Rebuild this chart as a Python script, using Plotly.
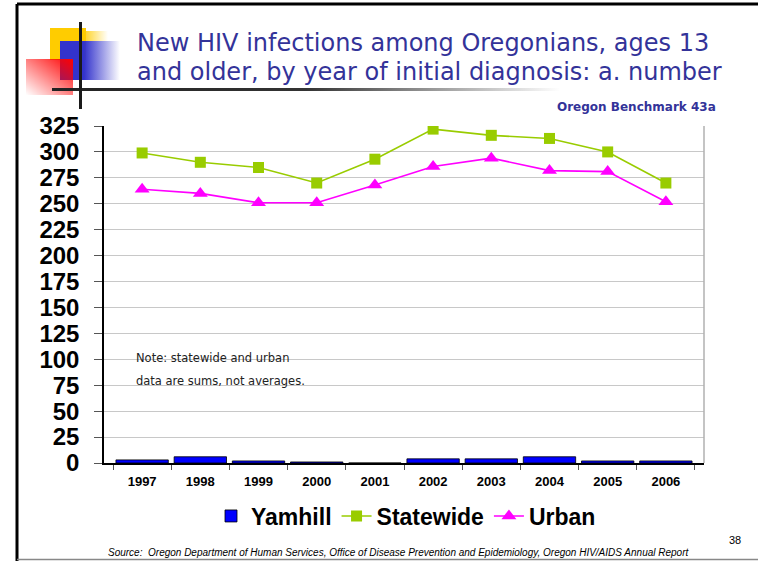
import base64
import plotly.graph_objects as go

years = ["1997", "1998", "1999", "2000", "2001", "2002", "2003", "2004", "2005", "2006"]
yamhill = [3, 6, 2, 1, 0, 4, 4, 6, 2, 2]
statewide = [299, 290, 285, 270, 293, 322, 316, 313, 300, 270]
urban = [264, 260, 251, 251, 268, 286, 294, 282, 281, 252]
y_ticks = list(range(0, 326, 25))

W, H = 758, 562
L, R, T, B = 104, 54, 126, 99
PW, PH = W - L - R, H - T - B


def px(x):
    return (x - L) / PW


def py(y):
    return (H - B - y) / PH


svg = f'''<svg xmlns="http://www.w3.org/2000/svg" width="{W}" height="{H}" viewBox="0 0 {W} {H}">
<defs>
<linearGradient id="gb" x1="0" y1="0" x2="1" y2="0">
<stop offset="0" stop-color="#3333CC"/><stop offset="0.4" stop-color="#3333CC"/><stop offset="1" stop-color="#3333CC" stop-opacity="0"/>
</linearGradient>
<linearGradient id="gy" x1="0" y1="0" x2="1" y2="0">
<stop offset="0" stop-color="#FFCC00" stop-opacity="0.8"/><stop offset="1" stop-color="#FFCC00" stop-opacity="0"/>
</linearGradient>
<linearGradient id="gr" x1="1" y1="0" x2="0" y2="1">
<stop offset="0" stop-color="#FF0000"/><stop offset="1" stop-color="#FF0000" stop-opacity="0"/>
</linearGradient>
<linearGradient id="gl" x1="0" y1="0" x2="1" y2="0">
<stop offset="0" stop-color="#222222"/><stop offset="0.5" stop-color="#333333"/><stop offset="1" stop-color="#333333" stop-opacity="0"/>
</linearGradient>
</defs>
<line x1="17" y1="4" x2="{W}" y2="4" stroke="#000" stroke-width="3"/>
<line x1="17" y1="4" x2="17" y2="561" stroke="#000" stroke-width="3"/>
<line x1="17" y1="559.5" x2="{W}" y2="559.5" stroke="#888" stroke-width="1.5"/>
<rect x="86" y="31" width="22" height="10" fill="url(#gy)"/>
<rect x="50" y="28" width="36" height="32" fill="#FFCC00"/>
<rect x="60" y="41" width="60" height="39" fill="url(#gb)"/>
<rect x="26" y="59" width="47" height="36" fill="url(#gr)"/>
<rect x="52" y="88" width="508" height="3" fill="url(#gl)"/>
<line x1="80.5" y1="22" x2="80.5" y2="109" stroke="#1a1a1a" stroke-width="3"/>
</svg>'''
src = "data:image/svg+xml;base64," + base64.b64encode(svg.encode()).decode()

fig = go.Figure()
fig.add_trace(go.Bar(
    x=years, y=yamhill, name="Yamhill", width=0.9,
    marker=dict(color="#0000FF", line=dict(color="#000000", width=0.8)),
))
fig.add_trace(go.Scatter(
    x=years, y=statewide, name="Statewide", mode="lines+markers",
    line=dict(color="#99CC00", width=1.6),
    marker=dict(symbol="square", size=11, color="#99CC00"),
))
fig.add_trace(go.Scatter(
    x=years, y=urban, name="Urban", mode="lines+markers",
    line=dict(color="#FF00FF", width=1.6),
    marker=dict(symbol="triangle-up", size=13, color="#FF00FF"),
))

fig.update_layout(
    width=W, height=H,
    margin=dict(l=L, r=R, t=T, b=B, pad=0),
    paper_bgcolor="white",
    plot_bgcolor="rgba(0,0,0,0)",
    showlegend=True,
    legend=dict(
        orientation="h", x=px(406), y=py(516), xanchor="center", yanchor="middle",
        font=dict(family="Liberation Sans", size=23, color="#000", weight="bold"),
        itemwidth=30, traceorder="normal", bgcolor="rgba(0,0,0,0)",
    ),
    xaxis=dict(
        type="category", showline=True, linecolor="#000", linewidth=1.5,
        ticks="outside", tickson="boundaries", ticklen=5, tickcolor="#555",
        tickfont=dict(family="Liberation Sans", size=13, color="#000", weight="bold"),
        ticklabelstandoff=6, showgrid=False, fixedrange=True,
    ),
    yaxis=dict(
        range=[0, 325], tickvals=y_ticks, showline=True, linecolor="#000", linewidth=1.5,
        ticks="outside", ticklen=8, tickcolor="#555",
        tickfont=dict(family="Liberation Sans", size=24, color="#000", weight="bold"),
        ticklabelstandoff=10,
        showgrid=True, gridcolor="#C8C8C8", gridwidth=1.2, zeroline=False,
    ),
    bargap=0.1,
    images=[dict(
        source=src, xref="paper", yref="paper",
        x=px(0), y=py(0), sizex=W / PW, sizey=H / PH,
        xanchor="left", yanchor="top", sizing="stretch", layer="below",
    )],
    shapes=[dict(
        type="line", xref="paper", yref="paper", x0=1, x1=1, y0=0, y1=1,
        line=dict(color="#B0B0B0", width=1.5),
    )],
)

title_font = dict(family="DejaVu Sans", size=24, color="#333399")
fig.add_annotation(text="New HIV infections among Oregonians, ages 13",
                   x=px(135), y=py(43), xref="paper", yref="paper",
                   xanchor="left", yanchor="middle", showarrow=False, font=title_font)
fig.add_annotation(text="and older, by year of initial diagnosis: a. number",
                   x=px(135), y=py(72), xref="paper", yref="paper",
                   xanchor="left", yanchor="middle", showarrow=False, font=title_font)
fig.add_annotation(text="Oregon Benchmark 43a",
                   x=px(718), y=py(107), xref="paper", yref="paper",
                   xanchor="right", yanchor="middle", showarrow=False,
                   font=dict(family="DejaVu Sans", size=12, color="#333399", weight="bold"))
note_font = dict(family="DejaVu Sans", size=11.5, color="#222222")
fig.add_annotation(text="Note: statewide and urban",
                   x=px(134), y=py(358), xref="paper", yref="paper",
                   xanchor="left", yanchor="middle", showarrow=False, font=note_font)
fig.add_annotation(text="data are sums, not averages.",
                   x=px(134), y=py(381), xref="paper", yref="paper",
                   xanchor="left", yanchor="middle", showarrow=False, font=note_font)
fig.add_annotation(text="Source:\u00a0\u00a0Oregon Department of Human Services, Office of Disease Prevention and Epidemiology, Oregon HIV/AIDS Annual Report",
                   x=px(399), y=py(552), xref="paper", yref="paper",
                   xanchor="center", yanchor="middle", showarrow=False,
                   font=dict(family="Liberation Sans", size=10, color="#000", style="italic"))
fig.add_annotation(text="38",
                   x=px(735), y=py(540), xref="paper", yref="paper",
                   xanchor="center", yanchor="middle", showarrow=False,
                   font=dict(family="Liberation Sans", size=11, color="#000"))

fig.write_html(
    "out.html",
    config={"displayModeBar": False},
    post_script="document.body.style.margin='0';document.body.style.overflow='hidden';",
)
